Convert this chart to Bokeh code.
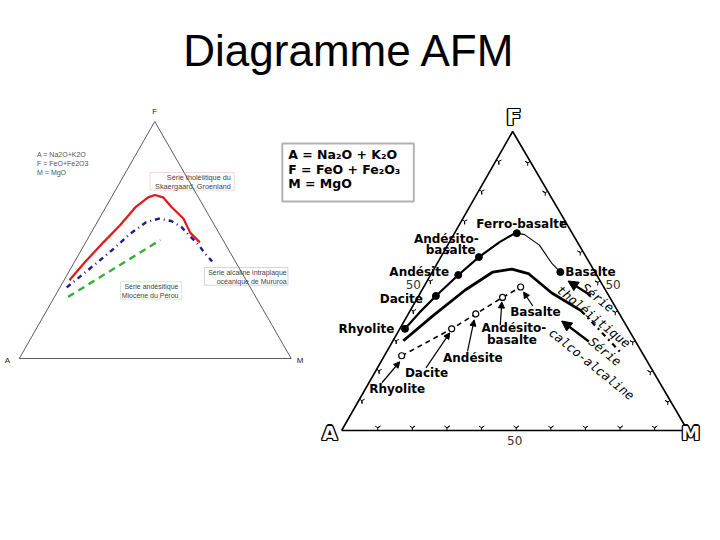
from bokeh.plotting import figure
from bokeh.models import Range1d, Arrow, NormalHead, BoxAnnotation
from bokeh.core.properties import value
from bokeh.embed import file_html
from bokeh.resources import INLINE

# ---------------- data (ternary %, A = 100 - F - M) ----------------
TITLE = "Diagramme AFM"

# left diagram
red_F = [33, 41, 49, 56, 64, 68, 69, 68, 64, 59, 53, 49]
red_M = [2, 4, 6.5, 9, 11, 13.5, 15.5, 19, 24, 31, 36.5, 42]
blue_F = [30, 33.5, 40.5, 46, 52.5, 57.5, 59, 58, 55.5, 52, 48, 44.5, 41]
blue_M = [2.5, 4.5, 8.5, 11.5, 14.5, 18, 22, 27, 32, 36.5, 42, 46, 50.5]
green_F = [26, 50]
green_M = [5, 27]
left_legend = ["A = Na2O+K2O", "F = FeO+Fe2O3", "M = MgO"]
red_label = ["Série tholéiitique du", "Skaergaard, Groenland"]
blue_label = ["Série alcaline intraplaque", "océanique de Mururoa"]
green_label = ["Série andésitique", "Miocène du Pérou"]

# right diagram
thol_names = ["Rhyolite", "Dacite", "Andésite", "Andésito-basalte", "Ferro-basalte", "Basalte"]
thol_F = [34, 45, 52, 58, 66, 53]
thol_M = [1.5, 5, 8, 11, 18, 37]
thol_path_F = [34, 39.5, 45, 52, 58, 63, 65.5, 66]
thol_path_M = [1.5, 3, 5, 8, 11, 14.5, 17, 18]
thol_tail_F = [66, 65.5, 62, 56, 53]
thol_tail_M = [18, 20.5, 26.5, 33, 37]
bound_F = [30, 38.5, 47, 53, 54, 52.5, 46, 40]
bound_M = [3, 7.5, 12.5, 17.5, 22.5, 28, 38, 49.5]
bound_ext_F = [40, 25.5]
bound_ext_M = [49.5, 68.5]
calc_names = ["Rhyolite", "Dacite", "Andésite", "Andésito-basalte", "Basalte"]
calc_F = [25, 34, 39, 44.5, 48]
calc_M = [5, 15, 19.5, 24.5, 28]
ticks = [10, 20, 30, 40, 50, 60, 70, 80, 90]
mid_tick = 50
right_legend = ["A = Na₂O + K₂O", "F = FeO + Fe₂O₃", "M = MgO"]
series_labels = ["Série", "tholéiitique", "Série", "calco-alcaline"]

# ---------------- layout ----------------
LEFT = {"A": (25, 366), "F": (162, 129), "M": (300, 366)}
RIGHT = {"A": (351, 438), "F": (524, 139), "M": (701, 438)}


def tern(tri, F, M):
    xs, ys = [], []
    for f, m in zip(F, M):
        a = 100 - f - m
        xs.append((a * tri["A"][0] + f * tri["F"][0] + m * tri["M"][0]) / 100)
        ys.append((a * tri["A"][1] + f * tri["F"][1] + m * tri["M"][1]) / 100)
    return xs, ys


p = figure(width=704, height=524, x_range=Range1d(6, 718), y_range=Range1d(532, 8),
           output_backend="svg", toolbar_location=None, min_border=0)
p.axis.visible = False
p.grid.visible = False
p.outline_line_color = None
p.background_fill_color = "white"
p.border_fill_color = "white"


def txt(x, y, s, size, font="DejaVu Sans", style="normal", color="black",
        align="center", baseline="middle", angle=0.0):
    p.text(x=[x], y=[y], text=[s], text_font=value(font), text_font_size=size,
           text_font_style=style, text_color=color, text_align=align,
           text_baseline=baseline, angle=angle)


# title
txt(359, 58, TITLE, "44px", font="Liberation Sans", baseline="alphabetic")

# ---------------- left diagram ----------------
lx, ly = tern(LEFT, [0, 100, 0, 0], [0, 0, 100, 0])
p.line(lx, ly, line_color="#333333", line_width=0.8)
txt(162, 119, "F", "8px", font="Liberation Sans", color="#222")
txt(13, 368, "A", "8px", font="Liberation Sans", color="#222")
txt(309, 368, "M", "8px", font="Liberation Sans", color="#222")
for i, s in enumerate(left_legend):
    txt(43, 162 + 9 * i, s, "7px", font="Liberation Sans", color="#555", align="left")

x, y = tern(LEFT, red_F, red_M)
p.line(x, y, line_color="#e01818", line_width=2.2)
x, y = tern(LEFT, blue_F, blue_M)
p.line(x, y, line_color="#1c1c96", line_width=2.4, line_dash="5 4 1 4")
x, y = tern(LEFT, green_F, green_M)
p.line(x, y, line_color="#3aae3a", line_width=2.4, line_dash="7 5")

for (l, r, t, b, col) in [(157.3, 242.3, 180, 197.7, "#e07878"),
                          (212.3, 296.7, 275, 292.7, "#6a6ac8"),
                          (127.3, 189.3, 289.3, 306.7, "#66bb66")]:
    p.add_layout(BoxAnnotation(left=l, right=r, top=t, bottom=b, fill_alpha=0,
                               line_color=col, line_width=1))
for i, s in enumerate(red_label):
    txt(239, 185 + 8.5 * i, s, "7.3px", font="Liberation Sans", color="#444", align="right")
for i, s in enumerate(blue_label):
    txt(295.5, 279.5 + 9 * i, s, "7px", font="Liberation Sans", color="#444", align="right")
for i, s in enumerate(green_label):
    txt(186, 293.5 + 9 * i, s, "7px", font="Liberation Sans", color="#444", align="right")

# ---------------- right legend box ----------------
p.add_layout(BoxAnnotation(left=291, right=424, top=151, bottom=209, fill_alpha=0,
                           line_color="black", line_width=2))
for i, s in enumerate(right_legend):
    txt(297, 162 + 14.5 * i, s, "12.5px", style="bold", align="left")

# ---------------- right diagram ----------------
rx, ry = tern(RIGHT, [0, 100, 0, 0], [0, 0, 100, 0])
p.line(rx, ry, line_color="black", line_width=1.6)

# ticks
bx, by = tern(RIGHT, [0.9] * len(ticks), ticks)
p.scatter(bx, by, marker="y", size=6, line_color="black", line_width=1)
lfx, lfy = tern(RIGHT, ticks, [0.9] * len(ticks))
p.scatter(lfx, lfy, marker="y", size=6, line_color="black", line_width=1, angle=-2.094)
rfx, rfy = tern(RIGHT, [100 - t - 0.45 for t in ticks], [t - 0.45 for t in ticks])
p.scatter(rfx, rfy, marker="y", size=6, line_color="black", line_width=1, angle=2.094)

(m1x,), (m1y,) = tern(RIGHT, [mid_tick], [0])
txt(m1x - 14, m1y + 3, str(mid_tick), "12px", color="#333")
(m2x,), (m2y,) = tern(RIGHT, [100 - mid_tick], [mid_tick])
txt(m2x + 13, m2y + 3, str(mid_tick), "12px", color="#333")
(m3x,), (m3y,) = tern(RIGHT, [0], [mid_tick])
txt(m3x, m3y + 10, str(mid_tick), "12px", color="#333")

# outlined vertex letters
for (vx, vy, s, sz) in [(RIGHT["F"][0] + 1, RIGHT["F"][1] - 14, "F", "22px"),
                        (RIGHT["A"][0] - 12, RIGHT["A"][1] + 2, "A", "20px"),
                        (RIGHT["M"][0] + 3, RIGHT["M"][1] + 2, "M", "19px")]:
    for dx, dy in [(-1.3, 0), (1.3, 0), (0, -1.3), (0, 1.3), (-1, -1), (1, 1), (-1, 1), (1, -1)]:
        txt(vx + dx, vy + dy, s, sz, style="bold")
    txt(vx, vy, s, sz, style="bold", color="white")

# boundary line
x, y = tern(RIGHT, bound_F, bound_M)
p.line(x, y, line_color="black", line_width=2.8)
x, y = tern(RIGHT, bound_ext_F, bound_ext_M)
p.line(x, y, line_color="black", line_width=2.2, line_dash="5 4 2 4")

# tholeiitic series
x, y = tern(RIGHT, thol_path_F, thol_path_M)
p.line(x, y, line_color="black", line_width=2.2)
x, y = tern(RIGHT, thol_tail_F, thol_tail_M)
p.line(x, y, line_color="black", line_width=1.1)
tx, ty = tern(RIGHT, thol_F, thol_M)
p.scatter(tx, ty, size=7, fill_color="black", line_color="black")

lab = dict(size="12px", style="bold")
txt(tx[0] - 39, ty[0], thol_names[0], **lab)
txt(tx[1] - 35, ty[1] + 3, thol_names[1], **lab)
txt(tx[2] - 39.5, ty[2] - 3.5, thol_names[2], **lab)
a1, a2 = thol_names[3].split("-")
txt(tx[3] - 33, ty[3] - 18, a1 + "-", **lab)
txt(tx[3] - 28.5, ty[3] - 7, a2, **lab)
txt(tx[4] + 5, ty[4] - 9, thol_names[4], **lab)
txt(tx[5] + 5, ty[5], thol_names[5], align="left", **lab)

# calc-alkaline series
x, y = tern(RIGHT, calc_F, calc_M)
p.line(x, y, line_color="black", line_width=1.6, line_dash="5 4")
p.scatter(x, y, size=6, fill_color="white", line_color="black", line_width=1.2)
cx, cy = x, y

offs = [((-4.5, 33), (-20, 27), (-2, 6)),
        ((-25.5, 44), (-26, 39), (-2, 4)),
        ((-3, 44), (-8.4, 37.6), (-1.7, 6)),
        ((11.5, 31), (-2.3, 27.7), (-0.7, 4.5)),
        ((15, 25), (12.3, 19), (3, 5))]
for i, ((ox, oy), (sx, sy), (ex, ey)) in enumerate(offs):
    name = calc_names[i]
    if "-" in name:
        b1, b2 = name.split("-")
        txt(cx[i] + ox, cy[i] + oy, b1 + "-", **lab)
        txt(cx[i] + ox - 2, cy[i] + oy + 11.5, b2, **lab)
    else:
        txt(cx[i] + ox, cy[i] + oy, name, **lab)
    p.add_layout(Arrow(end=NormalHead(size=6, fill_color="black", line_color="black"),
                       x_start=cx[i] + sx, y_start=cy[i] + sy,
                       x_end=cx[i] + ex, y_end=cy[i] + ey, line_width=1.2))

# series labels and arrows
ang = -0.68
ser = dict(size="12.5px", font="DejaVu Sans Mono", style="italic")
txt(610, 305, series_labels[0], angle=ang, **ser)
txt(606, 324, series_labels[1], angle=ang, **ser)
txt(617.5, 359, series_labels[2], angle=ang, **ser)
txt(604, 371.5, series_labels[3], angle=ang, **ser)
p.add_layout(Arrow(end=NormalHead(size=10, fill_color="black", line_color="black"),
                   x_start=603, y_start=303, x_end=580, y_end=288.5, line_width=2.2))
p.add_layout(Arrow(end=NormalHead(size=10, fill_color="black", line_color="black"),
                   x_start=601, y_start=349, x_end=573.5, y_end=328.5, line_width=2.2))

open("out.html", "w").write(file_html(p, INLINE))
